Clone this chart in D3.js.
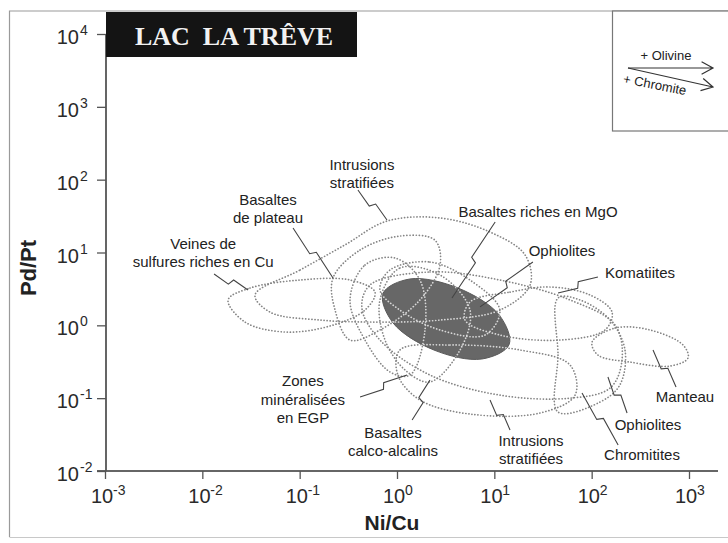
<!DOCTYPE html>
<html><head><meta charset="utf-8">
<script src="https://cdn.jsdelivr.net/npm/d3@7"></script>
<style>
body{margin:0;background:#fff}
svg{display:block}
text{font-family:"Liberation Sans",Arial,Helvetica,sans-serif}
</style>
</head><body>
<svg id="c" width="728" height="543"></svg>
<script>
// ---------- data (Ni/Cu, Pd/Pt) ----------
const xTickValues = [1e-3, 1e-2, 1e-1, 1, 10, 100, 1000];
const xTickExp = ["-3", "-2", "-1", "0", "1", "2", "3"];
const yTickValues = [1e-2, 1e-1, 1, 10, 100, 1000, 10000];
const yTickExp = ["-2", "-1", "0", "1", "2", "3", "4"];

const lacLaTreve = [[14.2,0.546],[7.46,0.345],[2.40,0.458],[0.910,1.08],[0.718,2.74],[1.36,4.33],[4.24,3.25],[11.2,1.39]];

const fieldVeines = [[0.0184,2.23],[0.0309,3.25],[0.101,4.19],[0.329,4.19],[0.594,2.86],[0.469,1.62],[0.205,0.98],[0.0706,0.809],[0.0274,1.11]];
const fieldIntrusionsUpper = [[0.0348,2.61],[0.101,5.75],[0.292,12.7],[0.789,27.0],[2.77,29.8],[9.03,19.1],[20.7,9.25],[23.3,3.58],[11.4,1.62],[2.77,1.18],[0.668,1.11],[0.162,1.18],[0.0495,1.52]];
const fieldBasaltesPlateau = [[0.220,4.47],[0.417,10.8],[1.07,16.8],[2.45,14.8],[2.77,6.73],[1.72,2.23],[0.668,0.863],[0.329,0.628],[0.231,1.62]];
const fieldBasaltesMgO = [[0.847,5.75],[2.18,7.40],[5.62,4.19],[11.4,1.62],[8.02,0.736],[2.77,0.863],[1.07,1.62],[0.668,3.05]];
const fieldOphiolites = [[0.528,3.58],[2.18,5.40],[11.4,4.19],[60.0,2.23],[174,1.01],[205,0.334],[155,0.138],[60.0,0.100],[11.4,0.110],[2.18,0.208],[0.668,0.628],[0.436,1.73]];
const fieldKomatiites = [[5.62,2.09],[14.5,2.86],[37.3,3.36],[96.2,2.61],[162,1.52],[137,0.863],[47.3,0.628],[11.4,0.736],[5.00,1.18]];
const fieldManteau = [[101,0.590],[174,0.918],[398,0.863],[869,0.537],[977,0.356],[638,0.276],[248,0.313],[116,0.391]];
const fieldChromitites = [[45.1,2.37],[45.1,0.391],[45.1,0.0646],[122,0.0885],[195,0.152],[220,0.458],[155,1.18],[75.9,2.23]];
const fieldIntrusionsLower = [[1.07,0.458],[3.51,0.537],[18.4,0.458],[60.0,0.285],[67.5,0.110],[29.4,0.0625],[5.62,0.0605],[1.72,0.0944],[1.02,0.208]];
const fieldZonesEGP = [[0.329,2.23],[0.469,6.73],[0.955,8.40],[1.72,4.19],[1.94,0.863],[1.36,0.208],[0.847,0.229],[0.469,0.628]];
const fieldCalcoAlcalins = [[0.668,2.23],[1.07,6.12],[2.77,4.91],[5.62,1.62],[4.44,0.458],[2.18,0.167],[1.21,0.244],[0.753,0.628]];

const labelLines = [
  ["Veines de","sulfures riches en Cu"],
  ["Basaltes","de plateau"],
  ["Intrusions","stratifiées"],
  ["Basaltes riches en MgO"],
  ["Ophiolites"],
  ["Komatiites"],
  ["Manteau"],
  ["Ophiolites"],
  ["Chromitites"],
  ["Intrusions","stratifiées"],
  ["Basaltes","calco-alcalins"],
  ["Zones","minéralisées","en EGP"]
];
const labelAt = [[0.0102,9.84],[0.0473,39.5],[0.436,120],[28.1,36.0],[49.6,10.5],[314,5.22],[910,0.104],[379,0.0428],[329,0.0166],[23.8,0.0194],[0.910,0.025],[0.108,0.0944]];
const leaderFrom = [[0.0132,5.07],[0.0855,21.7],[0.397,72.1],[10.2,26.2],[24.9,7.40],[116,4.60],[736,0.142],[231,0.0625],[187,0.0228],[14.5,0.0366],[1.43,0.0501],[0.417,0.104]];
const leaderTo = [[0.0294,3.05],[0.220,4.47],[0.789,27.9],[3.67,2.37],[7.13,1.79],[45.1,2.78],[427,0.458],[147,0.195],[79.6,0.118],[9.03,0.0944],[2.18,0.177],[1.27,0.208]];

const fields = [fieldVeines, fieldIntrusionsUpper, fieldBasaltesPlateau, fieldBasaltesMgO, fieldOphiolites,
  fieldKomatiites, fieldManteau, fieldChromitites, fieldIntrusionsLower, fieldZonesEGP, fieldCalcoAlcalins];

// ---------- drawing ----------
const svg = d3.select("#c");
const W = 728, H = 543;
svg.append("rect").attr("width", W).attr("height", H).attr("fill", "#fff");

const x = d3.scaleLog().domain([1e-3, 1e3]).range([105, 689]);
const y = d3.scaleLog().domain([1e-2, 1e4]).range([471, 34]);

// outer frame
const frame = svg.append("g").attr("stroke", "#9a9a9a").attr("stroke-width", 1.2).attr("fill", "none");
frame.append("path").attr("d", `M9.5,537 L9.5,11 L728,11`);
frame.append("path").attr("d", `M9.5,537.5 L728,537.5`).attr("stroke", "#c8c8c8");

const line = d3.line().x(d => x(d[0])).y(d => y(d[1])).curve(d3.curveCatmullRomClosed.alpha(0.5));

// fields (dotted)
const gF = svg.append("g");
gF.selectAll("path").data(fields).join("path")
  .attr("d", line).attr("fill", "none")
  .attr("stroke", "#858585").attr("stroke-width", 1.7)
  .attr("stroke-linecap", "round").attr("stroke-dasharray", "0.1 3");

// Lac La Trêve field
svg.append("defs").append("clipPath").attr("id", "lacClip")
  .append("path").attr("d", line(lacLaTreve));
svg.append("path").attr("d", line(lacLaTreve)).attr("fill", "#676767").attr("stroke", "#5a5a5a").attr("stroke-width", 1);
svg.append("g").attr("clip-path", "url(#lacClip)")
  .selectAll("path").data(fields).join("path")
  .attr("d", line).attr("fill", "none")
  .attr("stroke", "#d8d8d8").attr("stroke-width", 1.7)
  .attr("stroke-linecap", "round").attr("stroke-dasharray", "0.1 3");

// leaders (lightning style)
function leaderPath(a, b) {
  const x0 = x(a[0]), y0 = y(a[1]), x1 = x(b[0]), y1 = y(b[1]);
  const dx = x1 - x0, dy = y1 - y0, L = Math.hypot(dx, dy);
  const ux = dx / L, uy = dy / L, nx = -uy, ny = ux;
  const mx = (x0 + x1) / 2, my = (y0 + y1) / 2;
  return `M${x0},${y0} L${mx + nx * 3 - ux * 1.5},${my + ny * 3 - uy * 1.5} L${mx - nx * 3 + ux * 1.5},${my - ny * 3 + uy * 1.5} L${x1},${y1}`;
}
svg.append("g").selectAll("path").data(d3.range(leaderFrom.length)).join("path")
  .attr("d", i => leaderPath(leaderFrom[i], leaderTo[i]))
  .attr("fill", "none").attr("stroke", "#444").attr("stroke-width", 1.1);

// labels
const gL = svg.append("g").attr("fill", "#222").attr("font-size", 15).attr("text-anchor", "middle");
labelLines.forEach((lines, i) => {
  const cx = x(labelAt[i][0]), cy = y(labelAt[i][1]);
  const lh = 18.5;
  const t = gL.append("text");
  lines.forEach((s, j) => {
    t.append("tspan").attr("x", cx).attr("y", cy - (lines.length - 1) * lh / 2 + j * lh + 5).text(s);
  });
});

// axes
const axisColor = "#555";
svg.append("line").attr("x1", 97).attr("x2", 718).attr("y1", 471).attr("y2", 471).attr("stroke", "#666").attr("stroke-width", 2.2);
svg.append("line").attr("x1", 106).attr("x2", 106).attr("y1", 34).attr("y2", 471).attr("stroke", axisColor).attr("stroke-width", 1.8);

const xAxis = svg.append("g").attr("transform", "translate(0,471)")
  .call(d3.axisBottom(x).tickValues(xTickValues).tickFormat(() => "").tickSize(8).tickSizeOuter(0));
xAxis.select(".domain").remove();
xAxis.selectAll("line").attr("stroke", axisColor).attr("stroke-width", 1.3);
const yAxis = svg.append("g").attr("transform", "translate(106,0)")
  .call(d3.axisLeft(y).tickValues(yTickValues).tickFormat(() => "").tickSize(9).tickSizeOuter(0));
yAxis.select(".domain").remove();
yAxis.selectAll("line").attr("stroke", axisColor).attr("stroke-width", 1.3);

// tick labels
const gT = svg.append("g").attr("fill", "#2a2a2a");
xTickValues.forEach((v, i) => {
  const px = x(v);
  gT.append("text").attr("x", px - 14).attr("y", 503).attr("font-size", 20).text("10");
  gT.append("text").attr("x", px + 8).attr("y", 495).attr("font-size", 14).text(xTickExp[i]);
});
yTickValues.forEach((v, i) => {
  const py = y(v);
  gT.append("text").attr("x", 79).attr("y", py + 10).attr("font-size", 20).attr("text-anchor", "end").text("10");
  gT.append("text").attr("x", 80).attr("y", py + 1).attr("font-size", 14).text(yTickExp[i]);
});

// axis titles
svg.append("text").attr("transform", "translate(36,268) rotate(-90)").attr("text-anchor", "middle")
  .attr("font-size", 22).attr("font-weight", "bold").attr("fill", "#222").text("Pd/Pt");
svg.append("text").attr("x", 392).attr("y", 530).attr("text-anchor", "middle")
  .attr("font-size", 21).attr("font-weight", "bold").attr("fill", "#222").text("Ni/Cu");

// title box
svg.append("rect").attr("x", 106).attr("y", 12).attr("width", 251).attr("height", 45).attr("fill", "#141414");
svg.append("text").attr("x", 234).attr("y", 45).attr("text-anchor", "middle")
  .style("font-family", "'Liberation Serif','Times New Roman',serif").attr("font-weight", "bold")
  .attr("font-size", 26).attr("fill", "#f2f2f2").text("LAC\u00a0\u00a0LA TRÊVE");

// legend box
svg.append("rect").attr("x", 612.5).attr("y", 11).attr("width", 130).attr("height", 120)
  .attr("fill", "#fff").attr("stroke", "#777").attr("stroke-width", 1.2);
const gA = svg.append("g").attr("stroke", "#333").attr("stroke-width", 1.2).attr("fill", "none");
function arrow(x0, y0, x1, y1) {
  const a = Math.atan2(y1 - y0, x1 - x0), l = 13, s = 0.5;
  gA.append("path").attr("d",
    `M${x0},${y0} L${x1},${y1} M${x1 - l * Math.cos(a - s)},${y1 - l * Math.sin(a - s)} L${x1},${y1} L${x1 - l * Math.cos(a + s)},${y1 - l * Math.sin(a + s)}`);
}
arrow(628, 68, 713, 68);
arrow(628, 68, 713, 87);
svg.append("text").attr("x", 666).attr("y", 60).attr("text-anchor", "middle").attr("font-size", 13).attr("fill", "#222").text("+ Olivine");
svg.append("text").attr("transform", "translate(654,89) rotate(11)").attr("text-anchor", "middle").attr("font-size", 13).attr("fill", "#222").text("+ Chromite");
</script>
</body></html>
